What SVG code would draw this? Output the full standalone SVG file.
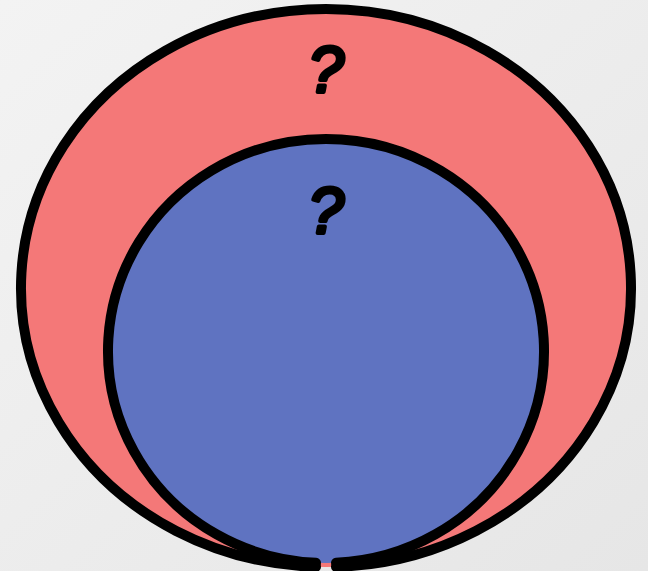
<svg xmlns="http://www.w3.org/2000/svg" width="648" height="571" viewBox="0 0 648 571">
  <defs>
    <linearGradient id="bg" x1="0" y1="0" x2="1" y2="1">
      <stop offset="0" stop-color="#f3f3f3"/>
      <stop offset="1" stop-color="#e6e6e6"/>
    </linearGradient>
  </defs>
  <style>
    .outline { fill: none; stroke: #000; stroke-width: 10; stroke-linecap: round; }
    .label { font-family: "Liberation Sans", "DejaVu Sans", sans-serif; font-style: italic; font-size: 64px; fill: #000; stroke: #000; stroke-width: 4; stroke-linejoin: round; text-anchor: middle; }
  </style>
  <rect x="0" y="0" width="648" height="571" fill="url(#bg)"/>
  <g id="outer">
    <ellipse cx="326" cy="288" rx="305" ry="279" fill="#f47878"/>
    <path class="outline" d="M316,566.8 A305,279 0 1 1 336,566.8"/>
    <text class="label" x="326" y="92">?</text>
  </g>
  <g id="inner">
    <ellipse cx="326" cy="351" rx="218" ry="212" fill="#5f73c1"/>
    <path class="outline" d="M316,562.8 A218,212 0 1 1 336,562.8"/>
    <text class="label" x="326" y="233">?</text>
  </g>
</svg>
